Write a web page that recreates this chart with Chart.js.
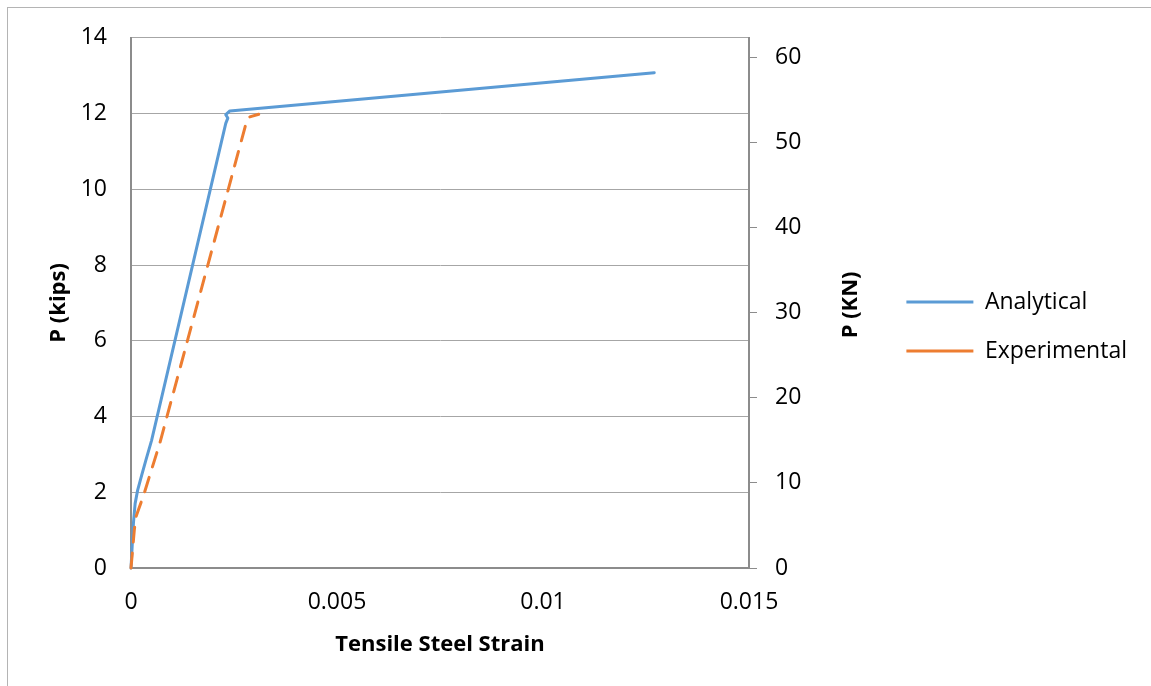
<!DOCTYPE html>
<html>
<head>
<meta charset="utf-8">
<script src="https://cdn.jsdelivr.net/npm/chart.js@4.4.1/dist/chart.umd.min.js"></script>
<style>
  html, body { margin: 0; padding: 0; background: #fff; }
  canvas { display: block; }
</style>
</head>
<body>
<canvas id="chart" width="1151" height="686"></canvas>
<script>
// Analytical curve (strain, kips)
const analyticalStrain = [0, 0.00003, 0.00006, 0.0001, 0.00016, 0.00026, 0.00037, 0.0005, 0.0023, 0.00235, 0.0023, 0.0024, 0.0127];
const analyticalLoad   = [0, 0.6, 1.2, 1.7, 2.05, 2.45, 2.88, 3.37, 11.74, 11.88, 11.97, 12.07, 13.08];

// Experimental curve (strain, kips)
const experimentalStrain = [0, 0.00004, 0.00008, 0.00012, 0.0002, 0.0003, 0.0007, 0.00277, 0.00285, 0.0031];
const experimentalLoad   = [0, 0.5, 1.0, 1.35, 1.6, 1.9, 3.3, 11.65, 11.9, 11.98];

// axis ticks
const strainTicks = [0, 0.005, 0.01, 0.015];
const strainTickLabels = ['0', '0.005', '0.01', '0.015'];
const kipsTicks = [0, 2, 4, 6, 8, 10, 12, 14];
const knTicks = [0, 10, 20, 30, 40, 50, 60];
const KIPS_TO_KN = 4.448;

const FONT = "'Open Sans'";
const RIGHT_PAD = 14;
Chart.defaults.font.family = FONT;
Chart.defaults.font.size = 23;
Chart.defaults.color = '#000';

const toPoints = (xs, ys) => xs.map((x, i) => ({ x: x, y: ys[i] }));

// thin grey frame round the whole chart
const frame = {
  id: 'frame',
  beforeDraw(chart) {
    const ctx = chart.ctx;
    ctx.save();
    ctx.strokeStyle = '#b4b4b4';
    ctx.lineWidth = 1;
    ctx.strokeRect(7.5, 7.5, 1200, 700);
    ctx.restore();
  }
};

// right axis title reads bottom-to-top like the left one
const rightTitle = {
  id: 'rightTitle',
  afterDraw(chart) {
    const ctx = chart.ctx;
    const area = chart.chartArea;
    ctx.save();
    ctx.translate(851, (area.top + area.bottom) / 2 + 2);
    ctx.rotate(-Math.PI / 2);
    ctx.font = 'bold 22px ' + FONT;
    ctx.fillStyle = '#000';
    ctx.textAlign = 'center';
    ctx.textBaseline = 'middle';
    ctx.fillText('P (KN)', 0, 0);
    ctx.restore();
  }
};

new Chart(document.getElementById('chart'), {
  type: 'line',
  data: {
    datasets: [{
      label: 'Analytical',
      data: toPoints(analyticalStrain, analyticalLoad),
      borderColor: '#5b9bd5',
      backgroundColor: '#5b9bd5',
      borderWidth: 3,
      borderCapStyle: 'round',
      borderJoinStyle: 'round',
      pointRadius: 0,
      tension: 0,
      clip: 4,
      order: 1
    }, {
      label: 'Experimental',
      data: toPoints(experimentalStrain, experimentalLoad),
      borderColor: '#ed7d31',
      backgroundColor: '#ed7d31',
      borderWidth: 3,
      borderDash: [15, 11],
      borderCapStyle: 'round',
      borderJoinStyle: 'round',
      pointRadius: 0,
      tension: 0,
      clip: 4,
      order: 0
    }]
  },
  options: {
    responsive: false,
    animation: false,
    devicePixelRatio: 1,
    layout: { padding: { top: 36, left: 0, right: RIGHT_PAD, bottom: 0 } },
    scales: {
      x: {
        type: 'linear',
        min: 0,
        max: 0.015,
        afterBuildTicks: s => { s.ticks = strainTicks.map(v => ({ value: v })); },
        afterFit: s => { s.height = 686 - 568; },
        ticks: {
          padding: 21,
          maxRotation: 0,
          callback: (v, i) => strainTickLabels[i]
        },
        grid: { display: false, drawTicks: false },
        border: { display: true, color: '#8c8c8c', width: 2 },
        title: {
          display: true,
          text: 'Tensile Steel Strain',
          font: { weight: 'bold', size: 22 },
          padding: { top: 0, bottom: 28 }
        }
      },
      y: {
        type: 'linear',
        position: 'left',
        min: 0,
        max: 14,
        afterBuildTicks: s => { s.ticks = kipsTicks.map(v => ({ value: v })); },
        afterFit: s => { s.width = 131; },
        ticks: { padding: 24 },
        grid: { color: '#a6a6a6', lineWidth: 1, drawTicks: false },
        border: { display: true, color: '#8c8c8c', width: 2 },
        title: {
          display: true,
          text: 'P (kips)',
          font: { weight: 'bold', size: 22 },
          padding: { top: 46, bottom: 0 }
        }
      },
      y2: {
        type: 'linear',
        position: 'right',
        min: 0,
        max: 14 * KIPS_TO_KN,
        afterBuildTicks: s => { s.ticks = knTicks.map(v => ({ value: v })); },
        afterFit: s => {
          const lw = s.chart.legend ? s.chart.legend.width : 0;
          s.width = 1151 - 749 - lw - RIGHT_PAD;
        },
        ticks: { padding: 18 },
        grid: { drawOnChartArea: false, drawTicks: true, tickLength: 8, color: '#8c8c8c' },
        border: { display: true, color: '#8c8c8c', width: 2 }
      }
    },
    plugins: {
      tooltip: { enabled: false },
      legend: {
        position: 'right',
        align: 'start',
        maxWidth: 320,
        title: { display: true, text: '', padding: { top: 201, bottom: 0 } },
        labels: {
          usePointStyle: true,
          pointStyle: 'line',
          pointStyleWidth: 67,
          padding: 26,
          color: '#000',
          font: { size: 23 },
          sort: (a, b) => a.datasetIndex - b.datasetIndex
        }
      }
    }
  },
  plugins: [frame, rightTitle]
});
</script>
</body>
</html>
